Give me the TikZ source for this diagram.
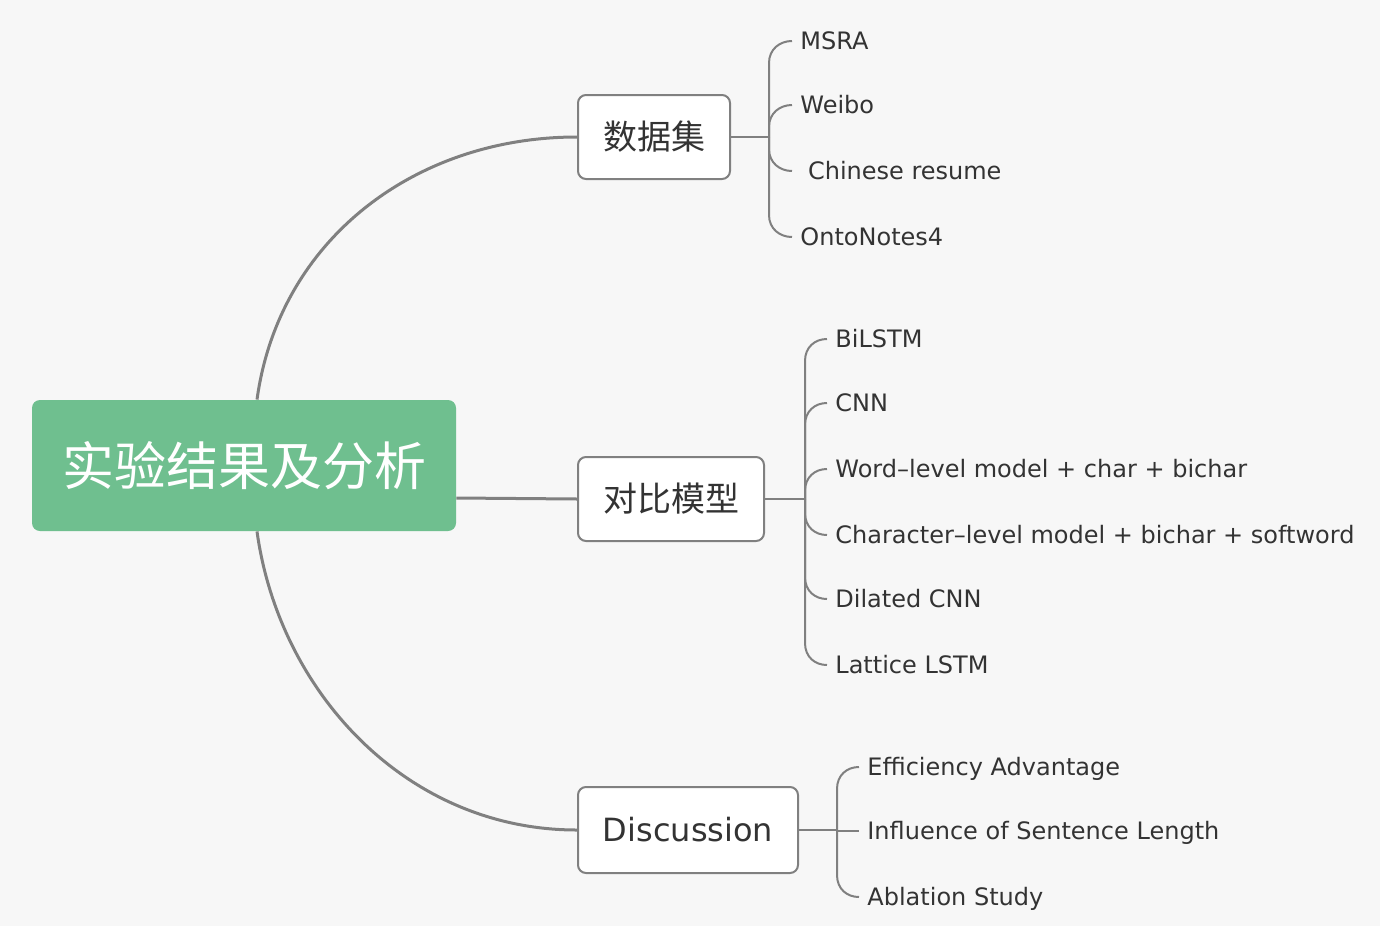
\documentclass[tikz,border=0pt]{standalone}
\usepackage{fontspec}
\setmainfont{DejaVu Sans}
\newfontfamily\cjk{Noto Sans CJK SC}
\usetikzlibrary{calc}

\definecolor{bggray}{RGB}{247,247,247}
\definecolor{rootgreen}{RGB}{111,191,143}
\definecolor{linegray}{RGB}{128,128,128}
\definecolor{textgray}{RGB}{51,51,51}

\begin{document}
\begin{tikzpicture}[
    x=0.5pt, y=-0.5pt,
    root/.style={fill=rootgreen, rounded corners=4pt, minimum width=212pt, minimum height=65.5pt, inner sep=0pt, text=white, font=\cjk\fontsize{26}{30}\selectfont},
    topic/.style={draw=linegray, line width=1pt, fill=white, rounded corners=4pt, minimum height=42pt, inner sep=0pt, anchor=west, text=textgray},
    leaf/.style={anchor=west, inner xsep=4pt, inner ysep=2pt, text height=8.75pt, text depth=0pt, text=textgray, font=\fontsize{12}{14.5}\selectfont},
    branch/.style={draw=linegray, line width=1.5pt},
    twig/.style={draw=linegray, line width=1pt}
]

% === Background ===
\fill[bggray] (0,0) rectangle (1380,926);

% === Root ===
\node[root] (root) at (244,465.5) {\raisebox{-2pt}{实验结果及分析}};

% === Main topics ===
\node[topic, minimum width=76pt, font=\cjk\fontsize{17}{20}\selectfont] (data) at (577,137) {数据集};
\node[topic, minimum width=93pt, font=\cjk\fontsize{17}{20}\selectfont] (models) at (577,499) {对比模型};
\node[topic, minimum width=110pt, minimum height=43pt, font=\fontsize{16}{19}\selectfont] (discuss) at (577,830) {Discussion};

% Root -> topics
\draw[branch] ([xshift=6.5pt]root.north) .. controls +(22,-160) and +(-162,0) .. (data.west);
\draw[branch] ([yshift=-16.25pt]root.east) .. controls +(60,0) and +(-60,0) .. (models.west);
\draw[branch] ([xshift=6.5pt]root.south) .. controls +(22,160) and +(-171,0) .. (discuss.west);

% === Datasets ===
\foreach \name/\y/\txt in {msra/41/MSRA, weibo/105/Weibo, resume/171/{\ Chinese resume}, onto/237/OntoNotes4}
    \node[leaf] (\name) at (792,\y) {\txt};

\draw[twig] (data.east) -- ++(38,0) coordinate (dj1);
\foreach \name/\s in {msra/1, weibo/1, resume/-1, onto/-1}
    \draw[twig] (dj1) -- ($(dj1 |- \name.west)+(0,22*\s)$) .. controls +(0,-14*\s) and +(-12,0) .. (\name.west);

% === Compared models ===
\foreach \name/\y/\txt in {bilstm/339/BiLSTM, cnn/403/CNN, word/469/{Word–level model + char + bichar}, char/535/{Character–level model + bichar + softword}, dilated/599/Dilated CNN, lattice/665/Lattice LSTM}
    \node[leaf] (\name) at (827,\y) {\txt};

\draw[twig] (models.east) -- ++(40,0) coordinate (dj2);
\foreach \name/\s in {bilstm/1, cnn/1, word/1, char/-1, dilated/-1, lattice/-1}
    \draw[twig] (dj2) -- ($(dj2 |- \name.west)+(0,22*\s)$) .. controls +(0,-14*\s) and +(-12,0) .. (\name.west);

% === Discussion ===
\foreach \name/\y/\txt in {effic/767/Efficiency Advantage, influ/831/Influence of Sentence Length, ablat/897/Ablation Study}
    \node[leaf] (\name) at (859,\y) {\txt};

\draw[twig] (discuss.east) -- ++(38,0) coordinate (dj3);
\foreach \name/\s in {effic/1, influ/0, ablat/-1}
    \draw[twig] (dj3) -- ($(dj3 |- \name.west)+(0,22*\s)$) .. controls +(0,-14*\s) and +(-12,0) .. (\name.west);

\end{tikzpicture}
\end{document}
